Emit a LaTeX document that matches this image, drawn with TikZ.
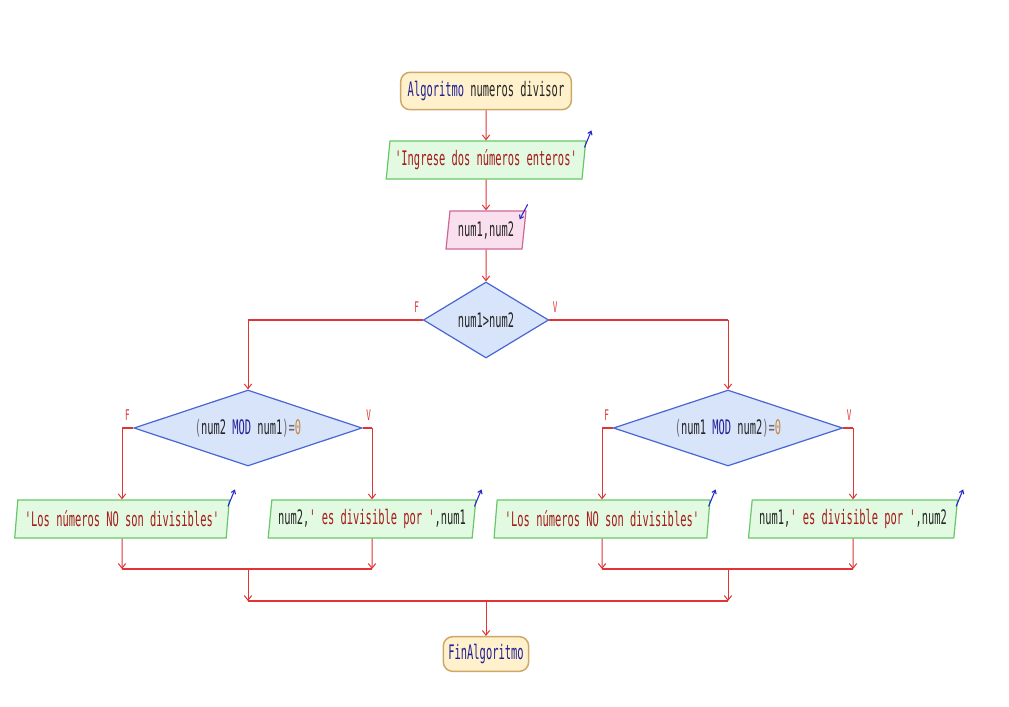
\documentclass[tikz,border=0pt]{standalone}
\usepackage{fontspec}
\newfontfamily\psfont{DejaVu Sans Mono}[FakeStretch=0.52]
\usetikzlibrary{calc}
\usetikzlibrary{arrows.meta}
\usetikzlibrary{shapes.geometric}

\definecolor{flowred}{RGB}{226,52,52}
\definecolor{kwblue}{RGB}{32,32,150}
\definecolor{strred}{RGB}{168,26,26}
\definecolor{numbrown}{RGB}{196,134,64}
\definecolor{pargray}{RGB}{110,110,110}
\definecolor{termfill}{RGB}{255,241,204}
\definecolor{termdraw}{RGB}{206,166,102}
\definecolor{outfill}{RGB}{226,250,226}
\definecolor{outdraw}{RGB}{104,200,104}
\definecolor{infill}{RGB}{250,224,238}
\definecolor{indraw}{RGB}{204,104,152}
\definecolor{decfill}{RGB}{216,228,250}
\definecolor{decdraw}{RGB}{72,102,212}
\definecolor{ioblue}{RGB}{40,40,200}

\newcommand{\kw}[1]{\textcolor{kwblue}{#1}}
\newcommand{\str}[1]{\textcolor{strred}{#1}}

\tikzset{
 base/.style={font=\fontsize{15}{18}\psfont, inner sep=0pt, text=black!85},
 term/.style={base, draw=termdraw, fill=termfill, line width=1.1pt, rounded corners=7pt, minimum height=28pt},
 outbox/.style={base, trapezium, trapezium left angle=80, trapezium right angle=100, trapezium stretches=true,
   draw=outdraw, fill=outfill, line width=0.9pt, minimum height=28.5pt},
 inbox/.style={outbox, draw=indraw, fill=infill},
 decbox/.style={base, diamond, aspect=2, draw=decdraw, fill=decfill, line width=0.9pt, minimum height=57pt},
 flow/.style={flowred, line width=0.75pt, -{Straight Barb[length=3.5pt,width=5.5pt]}},
 hline/.style={flowred, line width=1.5pt},
 lbl/.style={font=\fontsize{11}{13}\psfont, text=flowred, inner sep=0pt},
 ioout/.style={ioblue, line width=0.8pt, -{Straight Barb[length=2.5pt,width=3.5pt]}},
}

\begin{document}
\begin{tikzpicture}[x=0.75pt, y=-0.75pt]
\fill[white] (0,0) rectangle (1009,706);

\node[term, minimum width=128pt] (ini) at (486,91) {\kw{Algoritmo} numeros divisor};
\node[outbox, minimum width=150pt] (out1) at (486,160) {\str{'Ingrese dos números enteros'}};
\node[inbox, minimum width=60pt] (in1) at (486,230) {num1,num2};
\node[decbox, minimum width=94pt] (dec1) at (486,320) {num1>num2};
\node[decbox, minimum width=171pt] (dec2) at (248,428) {\textcolor{pargray}{(}num2 \kw{MOD} num1\textcolor{pargray}{)=}\textcolor{numbrown}{0}};
\node[decbox, minimum width=172pt] (dec3) at (728,428) {\textcolor{pargray}{(}num1 \kw{MOD} num2\textcolor{pargray}{)=}\textcolor{numbrown}{0}};
\node[outbox, minimum width=161pt] (out2) at (122,519) {\str{'Los números NO son divisibles'}};
\node[outbox, minimum width=156pt] (out3) at (372,519) {num2,\str{' es divisible por '},num1};
\node[outbox, minimum width=162pt] (out4) at (602,519) {\str{'Los números NO son divisibles'}};
\node[outbox, minimum width=157pt] (out5) at (853,519) {num1,\str{' es divisible por '},num2};
\node[term, minimum width=64pt, minimum height=26pt] (fin) at (486,654) {\kw{FinAlgoritmo}};

% marcas de entrada / salida
\foreach \o in {out1,out2,out3,out4,out5}
 \draw[ioout] ($(\o.top right corner)+(-2,7)$) --++(7,-17);
\draw[ioout] ($(in1.top right corner)+(1,-6)$) --++(-8,15);

% etiquetas de las ramas
\foreach \d in {dec1,dec2,dec3} {
 \node[lbl] (\d f) at ($(\d.west)+(-6,-13)$) {F};
 \node[lbl] (\d v) at ($(\d.east)+(6,-13)$) {V};
}

\coordinate (c1) at (dec1.west -| dec2.north);
\coordinate (c2) at (dec1.east -| dec3.north);
\coordinate (c3) at (dec2.west -| out2.north);
\coordinate (c4) at (dec2.east -| out3.north);
\coordinate (c5) at (dec3.west -| out4.north);
\coordinate (c6) at (dec3.east -| out5.north);
\coordinate (j1) at (122,569);
\coordinate (j2) at (372,569);
\coordinate (j3) at (602,569);
\coordinate (j4) at (853,569);
\coordinate (k1) at (248,569);
\coordinate (k2) at (728,569);
\coordinate (m1) at (248,601);
\coordinate (m2) at (728,601);
\coordinate (m3) at (486,601);

\draw[flow] (ini) -- (out1);
\draw[flow] (out1) -- (in1);
\draw[flow] (in1) -- (dec1);
\draw[hline] (dec1.west) -- (c1);
\draw[hline] (dec1.east) -- (c2);
\draw[flow] (c1) -- (dec2.north);
\draw[flow] (c2) -- (dec3.north);
\draw[hline] (dec2.west) -- (c3);
\draw[hline] (dec2.east) -- (c4);
\draw[hline] (dec3.west) -- (c5);
\draw[hline] (dec3.east) -- (c6);
\draw[flow] (c3) -- (out2.north);
\draw[flow] (c4) -- (out3.north);
\draw[flow] (c5) -- (out4.north);
\draw[flow] (c6) -- (out5.north);

\draw[flow] (out2.south) -- (j1);
\draw[flow] (out3.south) -- (j2);
\draw[flow] (out4.south) -- (j3);
\draw[flow] (out5.south) -- (j4);
\draw[hline] (j1) -- (j2);
\draw[hline] (j3) -- (j4);
\draw[flow] (k1) -- (m1);
\draw[flow] (k2) -- (m2);
\draw[hline] (m1) -- (m2);
\draw[flow] (m3) -- (fin);
\end{tikzpicture}
\end{document}
